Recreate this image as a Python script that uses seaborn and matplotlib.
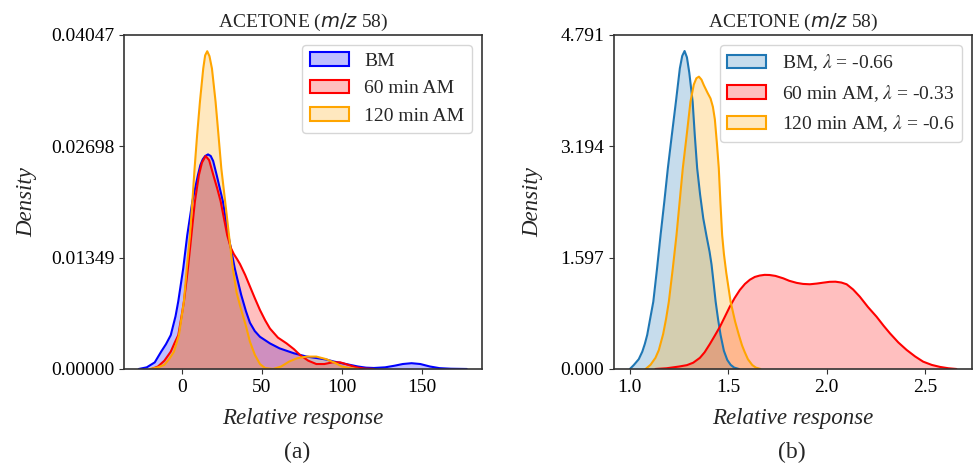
import matplotlib
matplotlib.use("Agg")
import matplotlib.pyplot as plt
import seaborn as sns
from matplotlib.patches import Patch
from matplotlib.font_manager import FontProperties

# ==========================================================
# DATA  (KDE curves)
# ==========================================================
# panel (a): raw relative response
a_bm_x = [-27, -22, -17, -13, -10, -7, -4, -2.3, 0.8, 3.3, 6.5, 10, 11.5, 13, 14.5, 16.3,
          18, 19.5, 21.7, 25.6, 29, 33, 37, 40, 42.5, 45.5, 48.75, 55, 61, 70, 78, 85, 90,
          95, 100, 105, 110, 115, 120, 127, 133, 138, 143.5, 149, 155, 161, 168, 178]
a_bm_y = [0, 0.0002, 0.0008, 0.0021, 0.0030, 0.0041, 0.0064, 0.0082, 0.0122, 0.0162, 0.0203,
          0.0235, 0.0247, 0.0254, 0.0258, 0.0260, 0.0258, 0.0252, 0.0235, 0.0203, 0.0162,
          0.0122, 0.0090, 0.0070, 0.0056, 0.0046, 0.0039, 0.0031, 0.0025, 0.0019, 0.0015,
          0.0013, 0.00115, 0.0009, 0.0007, 0.0005, 0.0003, 0.00016, 0.00012, 0.0002, 0.0004,
          0.0006, 0.0007, 0.0006, 0.0003, 0.0001, 0.00003, 0]

a_60_x = [-19, -15, -11, -7, -4.5, -2.3, 0, 1.25, 3.75, 5.9, 8.1, 10.6, 12.5, 14.8, 17,
          19.6, 22, 24.2, 28.3, 30.5, 32.5, 34.5, 36.3, 39.5, 42.5, 45.5, 48.75, 52, 55, 60,
          65.4, 70, 73.75, 79, 84, 89, 94, 99, 104, 109, 114, 120]
a_60_y = [0, 0.0003, 0.0010, 0.0021, 0.0032, 0.0041, 0.0067, 0.0082, 0.0122, 0.0162, 0.0203,
          0.0235, 0.0250, 0.0258, 0.0253, 0.0235, 0.0219, 0.0203, 0.0162, 0.0147, 0.0139,
          0.0133, 0.0127, 0.0114, 0.0100, 0.0086, 0.00715, 0.0059, 0.0049, 0.0038, 0.0031,
          0.0024, 0.0017, 0.0010, 0.0006, 0.0006, 0.0008, 0.0008, 0.0005, 0.0002, 0.00005, 0]

a_120_x = [-20, -15, -11, -8, -5, -1.9, 1.25, 3, 5, 6.5, 7.9, 9.5, 11.25, 13.3, 14.5, 15.8,
           17.2, 18.75, 21, 22.8, 24.6, 27, 29.4, 31.8, 34.2, 37, 40, 42.5, 45.6, 48.75,
           52, 57, 62, 67, 72, 78, 84, 90, 95, 100, 105, 110]
a_120_y = [0, 0.0002, 0.0005, 0.0012, 0.0021, 0.0041, 0.0082, 0.0122, 0.0162, 0.0203, 0.0243,
           0.0284, 0.0324, 0.0364, 0.0380, 0.0385, 0.0379, 0.0364, 0.0324, 0.0284, 0.0243,
           0.0203, 0.0162, 0.0122, 0.0092, 0.0072, 0.0052, 0.0033, 0.0017, 0.0006, 0.0001,
           0.0, 0.0003, 0.0009, 0.0013, 0.0015, 0.0015, 0.0012, 0.0008, 0.0003, 0.0001, 0]

# panel (b): Box-Cox transformed response
b_bm_x = [1.0, 1.02, 1.045, 1.063, 1.076, 1.088, 1.103, 1.119, 1.138, 1.156, 1.175, 1.193,
          1.213, 1.234, 1.254, 1.266, 1.278, 1.29, 1.302, 1.319, 1.33, 1.342, 1.357, 1.373,
          1.39, 1.405, 1.415, 1.425, 1.436, 1.448, 1.461, 1.478, 1.495, 1.512, 1.53, 1.554]
b_bm_y = [0, 0.057, 0.14, 0.248, 0.36, 0.488, 0.72, 0.965, 1.44, 1.922, 2.40, 2.879, 3.35,
          3.834, 4.313, 4.49, 4.561, 4.47, 4.25, 3.834, 3.35, 2.879, 2.50, 2.161, 1.90,
          1.683, 1.50, 1.25, 0.965, 0.72, 0.488, 0.26, 0.13, 0.06, 0.02, 0]

b_60_x = [1.13, 1.186, 1.25, 1.29, 1.322, 1.356, 1.38, 1.407, 1.43, 1.458, 1.483, 1.508,
          1.533, 1.559, 1.585, 1.61, 1.635, 1.66, 1.685, 1.71, 1.74, 1.78, 1.81, 1.848,
          1.88, 1.915, 1.95, 1.983, 2.015, 2.045, 2.075, 2.102, 2.135, 2.169, 2.21, 2.254,
          2.29, 2.322, 2.365, 2.407, 2.45, 2.491, 2.535, 2.576, 2.62, 2.66]
b_60_y = [0, 0.01, 0.035, 0.055, 0.09, 0.16, 0.24, 0.36, 0.47, 0.607, 0.75, 0.894, 1.02,
          1.133, 1.22, 1.28, 1.32, 1.34, 1.35, 1.348, 1.335, 1.30, 1.265, 1.235, 1.22,
          1.215, 1.225, 1.238, 1.25, 1.252, 1.24, 1.215, 1.14, 1.037, 0.89, 0.750, 0.62,
          0.512, 0.38, 0.273, 0.18, 0.105, 0.058, 0.03, 0.01, 0]

b_120_x = [1.08, 1.105, 1.13, 1.147, 1.169, 1.184, 1.198, 1.218, 1.237, 1.253, 1.269, 1.289,
           1.308, 1.325, 1.338, 1.351, 1.364, 1.376, 1.395, 1.41, 1.422, 1.432, 1.442, 1.452,
           1.46, 1.469, 1.478, 1.49, 1.512, 1.535, 1.554, 1.57, 1.583, 1.6, 1.622, 1.64, 1.664]
b_120_y = [0, 0.06, 0.16, 0.27, 0.5, 0.72, 0.965, 1.44, 1.922, 2.40, 2.879, 3.36, 3.834,
           4.08, 4.17, 4.193, 4.15, 4.07, 3.96, 3.88, 3.76, 3.58, 3.25, 2.879, 2.40, 1.922,
           1.65, 1.38, 0.965, 0.68, 0.488, 0.34, 0.248, 0.14, 0.057, 0.02, 0]

a_labels = ["BM", "60 min AM", "120 min AM"]
b_labels = [r"BM, $\lambda$ = -0.66", r"60 min AM, $\lambda$ = -0.33", r"120 min AM, $\lambda$ = -0.6"]
a_colors = ["blue", "red", "orange"]
b_colors = ["#1f77b4", "red", "orange"]

a_yticks = [0.0, 0.01349, 0.02698, 0.04047]
b_yticks = [0.0, 1.597, 3.194, 4.791]
a_xticks = [0, 50, 100, 150]
b_xticks = [1.0, 1.5, 2.0, 2.5]

# ==========================================================
# STYLE
# ==========================================================
sns.set_style("ticks")
plt.rcParams["font.family"] = ["Liberation Serif", "DejaVu Sans"]
plt.rcParams["mathtext.fontset"] = "dejavusans"
plt.rcParams["axes.edgecolor"] = "#333333"
plt.rcParams["axes.linewidth"] = 1.2
plt.rcParams["xtick.color"] = "#333333"
plt.rcParams["ytick.color"] = "#333333"
plt.rcParams["xtick.labelcolor"] = "black"
plt.rcParams["ytick.labelcolor"] = "black"

fig = plt.figure(figsize=(9.73, 4.65), dpi=100)
ax1 = fig.add_axes([0.1274, 0.2065, 0.3679, 0.7183])
ax2 = fig.add_axes([0.6310, 0.2065, 0.3679, 0.7183])


def draw_panel(ax, curves, labels, colors, yticks, yfmt, xticks, xlim, ypad):
    for (xs, ys), col in zip(curves, colors):
        ax.fill_between(xs, ys, color=col, alpha=0.25, linewidth=0)
        sns.lineplot(x=xs, y=ys, ax=ax, color=col, linewidth=1.5, estimator=None)
    ax.set_xlim(*xlim)
    ax.set_ylim(yticks[0], yticks[-1])
    ax.set_yticks(yticks)
    ax.set_yticklabels([yfmt.format(v) for v in yticks])
    ax.set_xticks(xticks)
    ax.tick_params(labelsize=14)
    ax.set_title("ACETONE ($m/z$ 58)", fontsize=14)
    ax.set_xlabel("Relative response", fontsize=16.5, style="italic", labelpad=9)
    ax.set_ylabel("Density", fontsize=16.5, style="italic", labelpad=ypad)
    handles = [Patch(facecolor=matplotlib.colors.to_rgba(c, 0.25), edgecolor=c, linewidth=1.5)
               for c in colors]
    prop = FontProperties(family="Liberation Serif", size=14, math_fontfamily="stix")
    ax.legend(handles, labels, loc="upper right", prop=prop, fancybox=True)


draw_panel(ax1, [(a_bm_x, a_bm_y), (a_60_x, a_60_y), (a_120_x, a_120_y)],
           a_labels, a_colors, a_yticks, "{:.5f}", a_xticks, (-36.25, 187.5), 10)
draw_panel(ax2, [(b_bm_x, b_bm_y), (b_60_x, b_60_y), (b_120_x, b_120_y)],
           b_labels, b_colors, b_yticks, "{:.3f}", b_xticks, (0.919, 2.739), 12)

fig.text(297 / 973, 1 - 452 / 465, "(a)", ha="center", va="center", fontsize=17)
fig.text(792 / 973, 1 - 452 / 465, "(b)", ha="center", va="center", fontsize=17)

fig.savefig("out.png", dpi=100)
